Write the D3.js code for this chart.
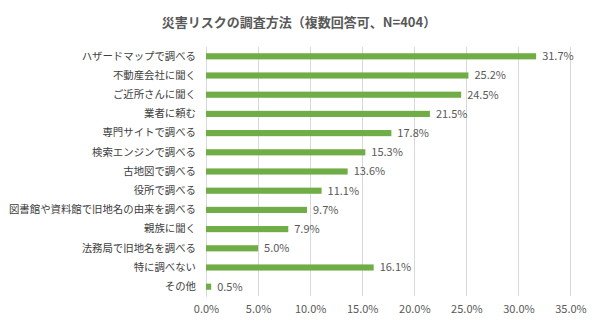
<!DOCTYPE html>
<html><head><meta charset="utf-8">
<script src="https://cdn.jsdelivr.net/npm/d3@7"></script>
<style>body{margin:0;background:#fff;} svg{display:block;}</style>
</head><body>
<svg id="c" width="600" height="324"></svg>
<script>
const categories = ["ハザードマップで調べる","不動産会社に聞く","ご近所さんに聞く","業者に頼む","専門サイトで調べる","検索エンジンで調べる","古地図で調べる","役所で調べる","図書館や資料館で旧地名の由来を調べる","親族に聞く","法務局で旧地名を調べる","特に調べない","その他"];
const values = [31.7,25.2,24.5,21.5,17.8,15.3,13.6,11.1,9.7,7.9,5.0,16.1,0.5];
const ticks = [0,5,10,15,20,25,30,35];
const title = "災害リスクの調査方法（複数回答可、N=404）";

(function(){
const svg = d3.select("#c");
const font = "'Noto Sans CJK JP', 'Noto Sans', sans-serif";
const mLeft = 206, mRight = 570.5, mTop = 46.7, mBottom = 296.3;
const x = d3.scaleLinear().domain([0,35]).range([mLeft,mRight]);
const y = d3.scaleBand().domain(categories).range([mTop,mBottom]).paddingInner(0.68).paddingOuter(0.34);

svg.append("text").attr("x",299).attr("y",27).attr("text-anchor","middle")
  .attr("font-family",font).attr("font-size",13).attr("font-weight","bold").attr("fill","#595959").text(title);

svg.append("g").selectAll("line").data(ticks).join("line")
  .attr("x1",d=>x(d)).attr("x2",d=>x(d)).attr("y1",mTop).attr("y2",mBottom)
  .attr("stroke","#d9d9d9").attr("stroke-width",1).attr("shape-rendering","crispEdges");

const xa = svg.append("g").attr("transform",`translate(0,${mBottom})`)
  .call(d3.axisBottom(x).tickValues(ticks).tickFormat(d=>d.toFixed(1)+"%").tickSize(0).tickPadding(9));
xa.select(".domain").remove();
xa.selectAll("text").attr("font-family",font).attr("font-size",11).attr("fill","#595959");

const ya = svg.append("g").attr("transform",`translate(${mLeft},0)`)
  .call(d3.axisLeft(y).tickSize(0).tickPadding(10));
ya.select(".domain").attr("stroke","#d9d9d9");
ya.selectAll("text").attr("font-family",font).attr("font-size",10.4).attr("fill","#404040");

svg.append("g").selectAll("rect").data(values).join("rect")
  .attr("x",x(0)).attr("y",(d,i)=>y(categories[i]))
  .attr("width",d=>x(d)-x(0)).attr("height",y.bandwidth()).attr("fill","#70ad47");

svg.append("g").selectAll("text").data(values).join("text")
  .attr("x",d=>x(d)+6).attr("y",(d,i)=>y(categories[i])+y.bandwidth()/2)
  .attr("dy","0.35em").attr("font-family",font).attr("font-size",11).attr("fill","#595959")
  .text(d=>d.toFixed(1)+"%");
})();
</script>
</body></html>
